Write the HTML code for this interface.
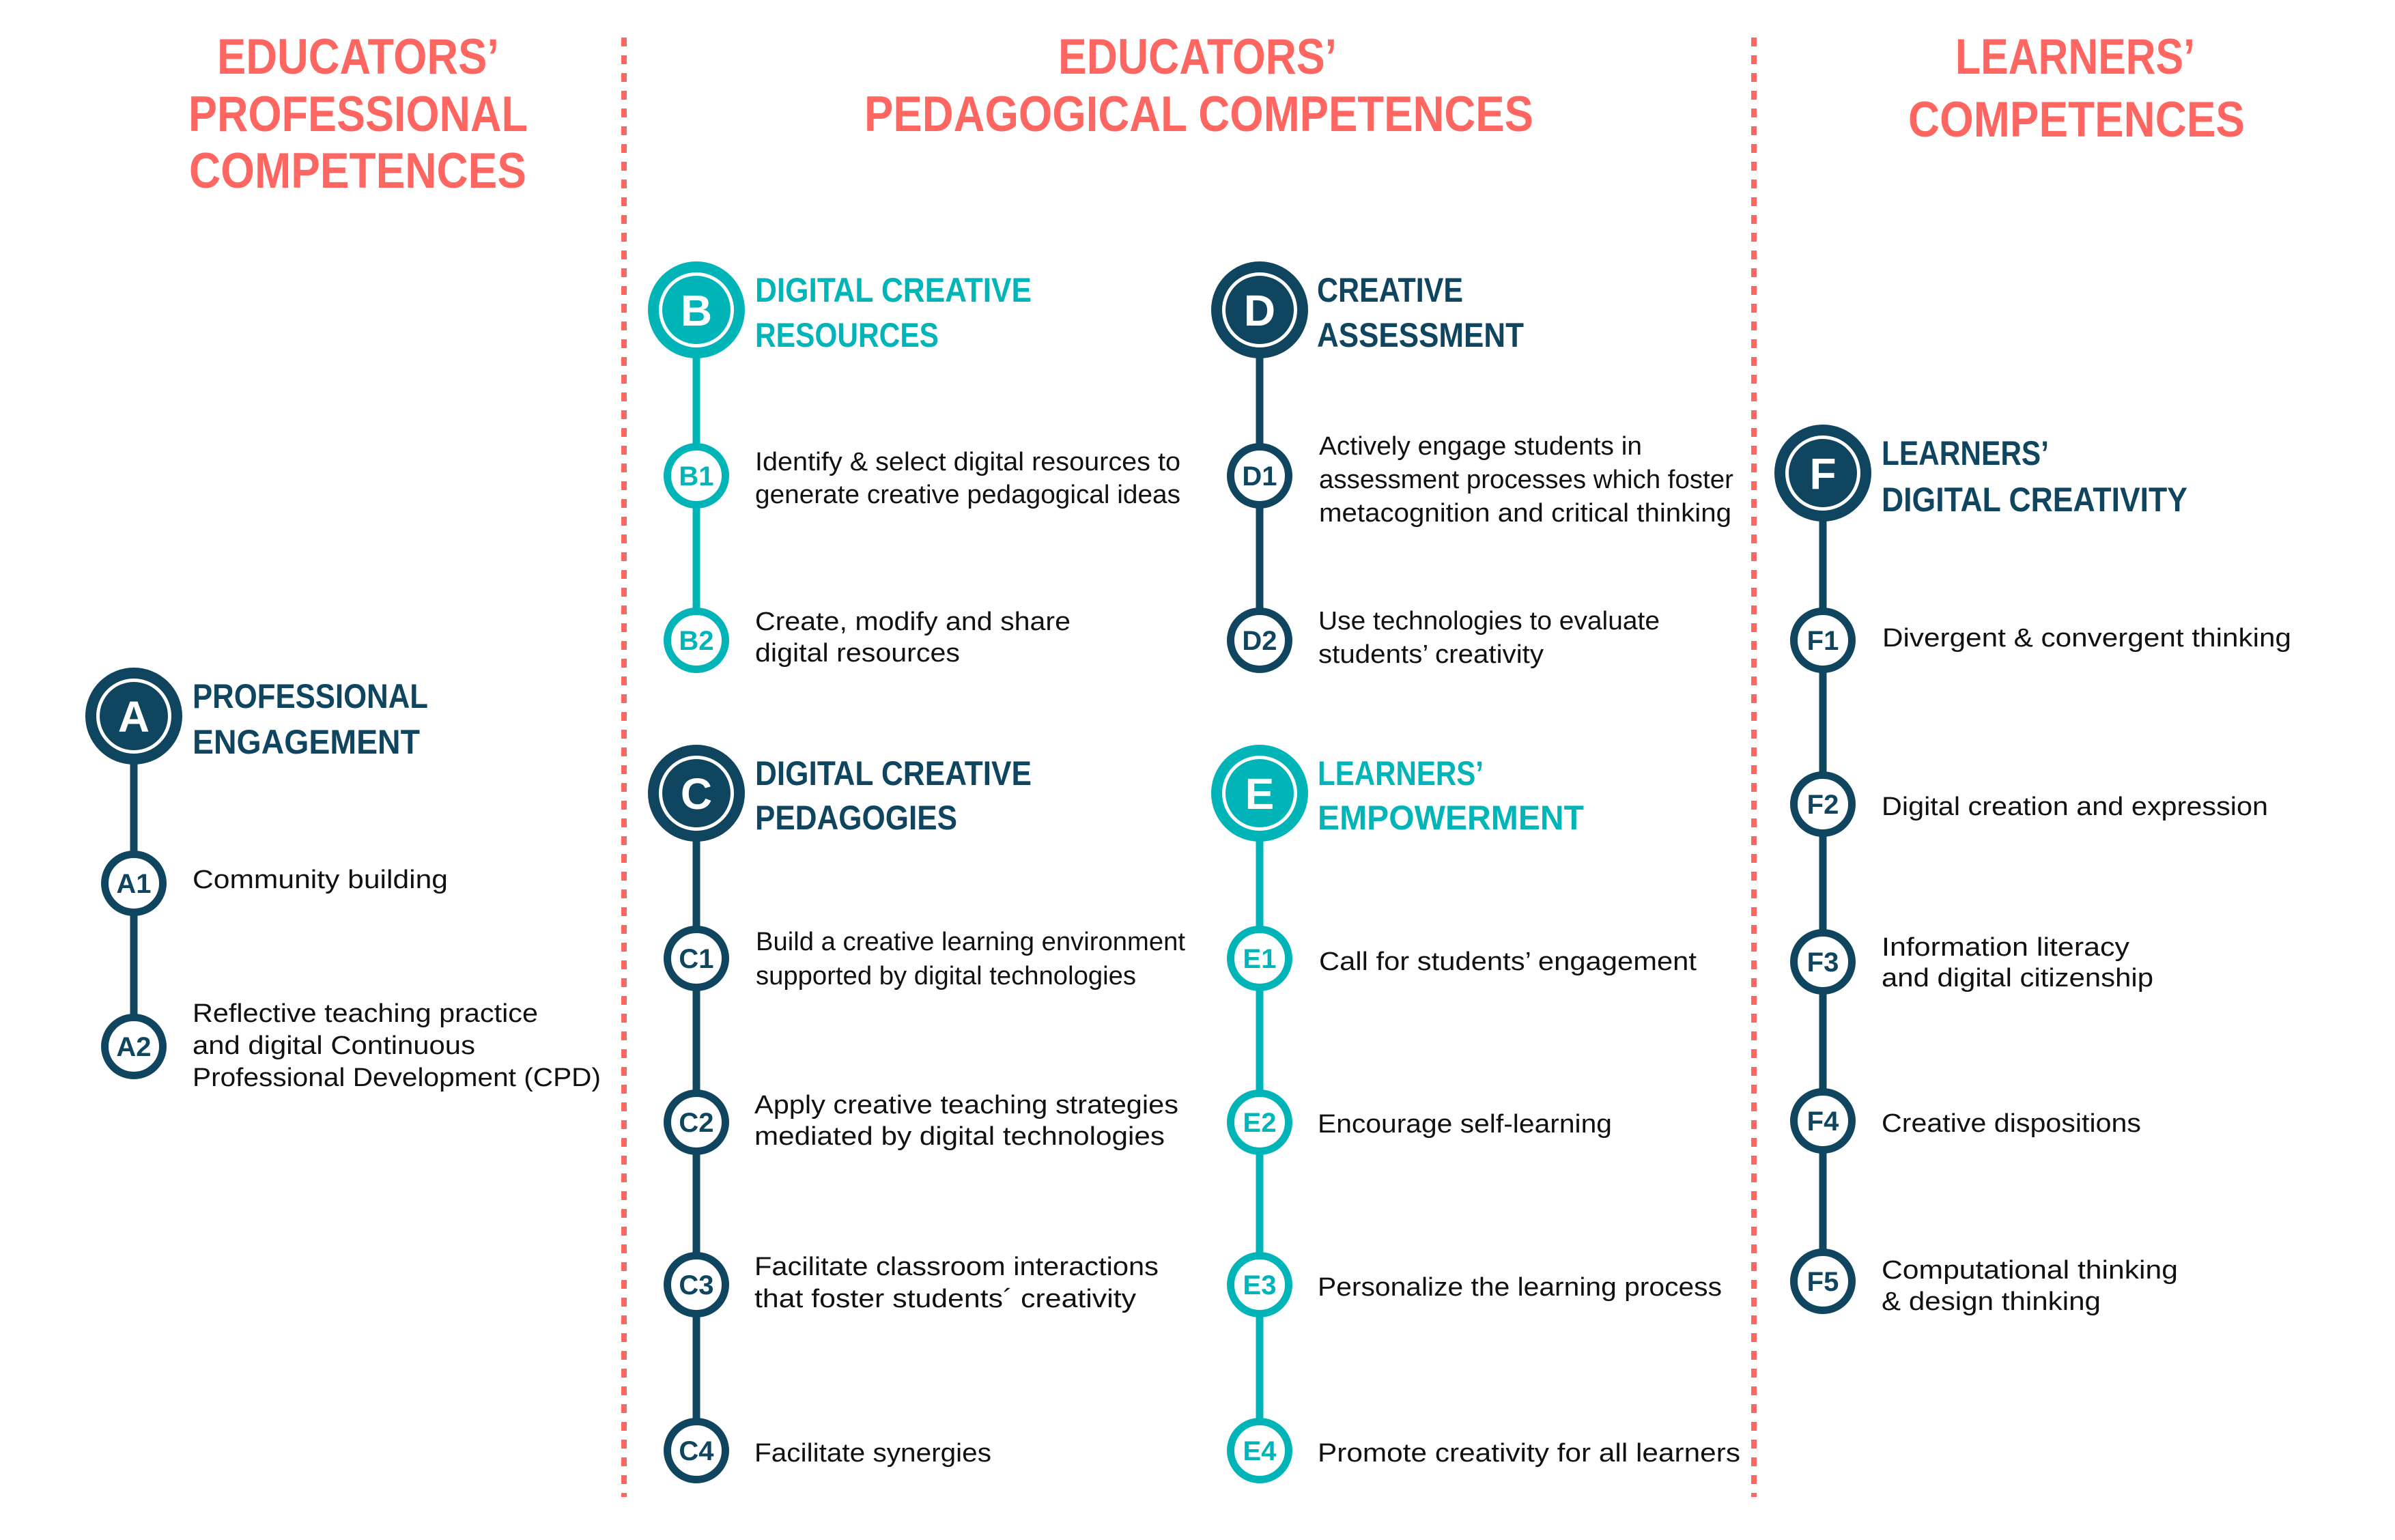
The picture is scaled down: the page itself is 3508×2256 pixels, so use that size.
<!DOCTYPE html>
<html><head><meta charset="utf-8"><style>html,body{margin:0;padding:0;background:#fff}svg{display:block}</style></head>
<body>
<svg width="3508" height="2256" viewBox="0 0 3508 2256" xmlns="http://www.w3.org/2000/svg" font-family="Liberation Sans, sans-serif">
<rect width="3508" height="2256" fill="#fff"/>
<g stroke="#fd6661" stroke-width="8" stroke-dasharray="13 13">
<line x1="914" y1="55" x2="914" y2="2193"/>
<line x1="2569" y1="55" x2="2569" y2="2193"/>
</g>
<g fill="#fd6661" font-weight="bold" font-size="73">
<text x="318" y="108" textLength="413" lengthAdjust="spacingAndGlyphs">EDUCATORS’</text>
<text x="276" y="192" textLength="497" lengthAdjust="spacingAndGlyphs">PROFESSIONAL</text>
<text x="277" y="275" textLength="494" lengthAdjust="spacingAndGlyphs">COMPETENCES</text>
<text x="1550" y="108" textLength="408" lengthAdjust="spacingAndGlyphs">EDUCATORS’</text>
<text x="1266" y="192" textLength="980" lengthAdjust="spacingAndGlyphs">PEDAGOGICAL COMPETENCES</text>
<text x="2864" y="108" textLength="351" lengthAdjust="spacingAndGlyphs">LEARNERS’</text>
<text x="2795" y="200" textLength="493" lengthAdjust="spacingAndGlyphs">COMPETENCES</text>
</g>
<g stroke-width="11">
<line x1="196" y1="1049" x2="196" y2="1533" stroke="#0f455f"/>
<line x1="1020" y1="454" x2="1020" y2="938" stroke="#00b4b8"/>
<line x1="1020" y1="1162" x2="1020" y2="2125" stroke="#0f455f"/>
<line x1="1845" y1="454" x2="1845" y2="938" stroke="#0f455f"/>
<line x1="1845" y1="1162" x2="1845" y2="2125" stroke="#00b4b8"/>
<line x1="2670" y1="693" x2="2670" y2="1877" stroke="#0f455f"/>
</g>
<g font-weight="bold" font-size="64" fill="#fff" text-anchor="middle">
<circle cx="196" cy="1049" r="63" fill="#fff" stroke="#0f455f" stroke-width="16"/><circle cx="196" cy="1049" r="50" fill="#0f455f"/><text x="196" y="1072">A</text>
<circle cx="1020" cy="454" r="63" fill="#fff" stroke="#00b4b8" stroke-width="16"/><circle cx="1020" cy="454" r="50" fill="#00b4b8"/><text x="1020" y="477">B</text>
<circle cx="1020" cy="1162" r="63" fill="#fff" stroke="#0f455f" stroke-width="16"/><circle cx="1020" cy="1162" r="50" fill="#0f455f"/><text x="1020" y="1185">C</text>
<circle cx="1845" cy="454" r="63" fill="#fff" stroke="#0f455f" stroke-width="16"/><circle cx="1845" cy="454" r="50" fill="#0f455f"/><text x="1845" y="477">D</text>
<circle cx="1845" cy="1162" r="63" fill="#fff" stroke="#00b4b8" stroke-width="16"/><circle cx="1845" cy="1162" r="50" fill="#00b4b8"/><text x="1845" y="1185">E</text>
<circle cx="2670" cy="693" r="63" fill="#fff" stroke="#0f455f" stroke-width="16"/><circle cx="2670" cy="693" r="50" fill="#0f455f"/><text x="2670" y="716">F</text>
</g>
<g font-weight="bold" font-size="40" text-anchor="middle" stroke-width="11">
<g fill="#0f455f">
<circle cx="196" cy="1294" r="42.5" fill="#fff" stroke="#0f455f"/><text x="196" y="1308">A1</text>
<circle cx="196" cy="1533" r="42.5" fill="#fff" stroke="#0f455f"/><text x="196" y="1547">A2</text>
<circle cx="1020" cy="1404" r="42.5" fill="#fff" stroke="#0f455f"/><text x="1020" y="1418">C1</text>
<circle cx="1020" cy="1644" r="42.5" fill="#fff" stroke="#0f455f"/><text x="1020" y="1658">C2</text>
<circle cx="1020" cy="1882" r="42.5" fill="#fff" stroke="#0f455f"/><text x="1020" y="1896">C3</text>
<circle cx="1020" cy="2125" r="42.5" fill="#fff" stroke="#0f455f"/><text x="1020" y="2139">C4</text>
<circle cx="1845" cy="697" r="42.5" fill="#fff" stroke="#0f455f"/><text x="1845" y="711">D1</text>
<circle cx="1845" cy="938" r="42.5" fill="#fff" stroke="#0f455f"/><text x="1845" y="952">D2</text>
<circle cx="2670" cy="938" r="42.5" fill="#fff" stroke="#0f455f"/><text x="2670" y="952">F1</text>
<circle cx="2670" cy="1178" r="42.5" fill="#fff" stroke="#0f455f"/><text x="2670" y="1192">F2</text>
<circle cx="2670" cy="1409" r="42.5" fill="#fff" stroke="#0f455f"/><text x="2670" y="1423">F3</text>
<circle cx="2670" cy="1642" r="42.5" fill="#fff" stroke="#0f455f"/><text x="2670" y="1656">F4</text>
<circle cx="2670" cy="1877" r="42.5" fill="#fff" stroke="#0f455f"/><text x="2670" y="1891">F5</text>
</g>
<g fill="#00b4b8">
<circle cx="1020" cy="697" r="42.5" fill="#fff" stroke="#00b4b8"/><text x="1020" y="711">B1</text>
<circle cx="1020" cy="938" r="42.5" fill="#fff" stroke="#00b4b8"/><text x="1020" y="952">B2</text>
<circle cx="1845" cy="1404" r="42.5" fill="#fff" stroke="#00b4b8"/><text x="1845" y="1418">E1</text>
<circle cx="1845" cy="1644" r="42.5" fill="#fff" stroke="#00b4b8"/><text x="1845" y="1658">E2</text>
<circle cx="1845" cy="1882" r="42.5" fill="#fff" stroke="#00b4b8"/><text x="1845" y="1896">E3</text>
<circle cx="1845" cy="2125" r="42.5" fill="#fff" stroke="#00b4b8"/><text x="1845" y="2139">E4</text>
</g>
</g>
<g font-weight="bold" font-size="50">
<g fill="#0f455f">
<text x="282" y="1037" textLength="345" lengthAdjust="spacingAndGlyphs">PROFESSIONAL</text>
<text x="282" y="1104" textLength="333" lengthAdjust="spacingAndGlyphs">ENGAGEMENT</text>
<text x="1106" y="1150" textLength="405" lengthAdjust="spacingAndGlyphs">DIGITAL CREATIVE</text>
<text x="1106" y="1215" textLength="296" lengthAdjust="spacingAndGlyphs">PEDAGOGIES</text>
<text x="1929" y="442" textLength="214" lengthAdjust="spacingAndGlyphs">CREATIVE</text>
<text x="1929" y="508" textLength="303" lengthAdjust="spacingAndGlyphs">ASSESSMENT</text>
<text x="2756" y="681" textLength="245" lengthAdjust="spacingAndGlyphs">LEARNERS’</text>
<text x="2756" y="749" textLength="448" lengthAdjust="spacingAndGlyphs">DIGITAL CREATIVITY</text>
</g>
<g fill="#00b4b8">
<text x="1106" y="442" textLength="405" lengthAdjust="spacingAndGlyphs">DIGITAL CREATIVE</text>
<text x="1106" y="508" textLength="269" lengthAdjust="spacingAndGlyphs">RESOURCES</text>
<text x="1930" y="1150" textLength="243" lengthAdjust="spacingAndGlyphs">LEARNERS’</text>
<text x="1930" y="1215" textLength="390" lengthAdjust="spacingAndGlyphs">EMPOWERMENT</text>
</g>
</g>
<g font-size="38" fill="#111">
<text x="282" y="1301" textLength="374" lengthAdjust="spacingAndGlyphs">Community building</text>
<text x="282" y="1497" textLength="506" lengthAdjust="spacingAndGlyphs">Reflective teaching practice</text>
<text x="282" y="1544" textLength="414" lengthAdjust="spacingAndGlyphs">and digital Continuous</text>
<text x="282" y="1591" textLength="598" lengthAdjust="spacingAndGlyphs">Professional Development (CPD)</text>
<text x="1106" y="689" textLength="623" lengthAdjust="spacingAndGlyphs">Identify &amp; select digital resources to</text>
<text x="1106" y="737" textLength="623" lengthAdjust="spacingAndGlyphs">generate creative pedagogical ideas</text>
<text x="1106" y="923" textLength="462" lengthAdjust="spacingAndGlyphs">Create, modify and share</text>
<text x="1106" y="969" textLength="300" lengthAdjust="spacingAndGlyphs">digital resources</text>
<text x="1107" y="1392" textLength="629" lengthAdjust="spacingAndGlyphs">Build a creative learning environment</text>
<text x="1107" y="1442" textLength="557" lengthAdjust="spacingAndGlyphs">supported by digital technologies</text>
<text x="1105" y="1631" textLength="621" lengthAdjust="spacingAndGlyphs">Apply creative teaching strategies</text>
<text x="1105" y="1677" textLength="601" lengthAdjust="spacingAndGlyphs">mediated by digital technologies</text>
<text x="1105" y="1868" textLength="592" lengthAdjust="spacingAndGlyphs">Facilitate classroom interactions</text>
<text x="1105" y="1915" textLength="559" lengthAdjust="spacingAndGlyphs">that foster students´ creativity</text>
<text x="1105" y="2141" textLength="347" lengthAdjust="spacingAndGlyphs">Facilitate synergies</text>
<text x="1932" y="666" textLength="473" lengthAdjust="spacingAndGlyphs">Actively engage students in</text>
<text x="1932" y="715" textLength="607" lengthAdjust="spacingAndGlyphs">assessment processes which foster</text>
<text x="1932" y="764" textLength="604" lengthAdjust="spacingAndGlyphs">metacognition and critical thinking</text>
<text x="1931" y="922" textLength="500" lengthAdjust="spacingAndGlyphs">Use technologies to evaluate</text>
<text x="1931" y="971" textLength="330" lengthAdjust="spacingAndGlyphs">students’ creativity</text>
<text x="1932" y="1421" textLength="553" lengthAdjust="spacingAndGlyphs">Call for students’ engagement</text>
<text x="1930" y="1659" textLength="431" lengthAdjust="spacingAndGlyphs">Encourage self-learning</text>
<text x="1930" y="1898" textLength="592" lengthAdjust="spacingAndGlyphs">Personalize the learning process</text>
<text x="1930" y="2141" textLength="619" lengthAdjust="spacingAndGlyphs">Promote creativity for all learners</text>
<text x="2757" y="947" textLength="599" lengthAdjust="spacingAndGlyphs">Divergent &amp; convergent thinking</text>
<text x="2756" y="1194" textLength="566" lengthAdjust="spacingAndGlyphs">Digital creation and expression</text>
<text x="2756" y="1400" textLength="363" lengthAdjust="spacingAndGlyphs">Information literacy</text>
<text x="2756" y="1445" textLength="398" lengthAdjust="spacingAndGlyphs">and digital citizenship</text>
<text x="2756" y="1658" textLength="380" lengthAdjust="spacingAndGlyphs">Creative dispositions</text>
<text x="2756" y="1873" textLength="434" lengthAdjust="spacingAndGlyphs">Computational thinking</text>
<text x="2756" y="1919" textLength="321" lengthAdjust="spacingAndGlyphs">&amp; design thinking</text>
</g>
</svg>
</body></html>
